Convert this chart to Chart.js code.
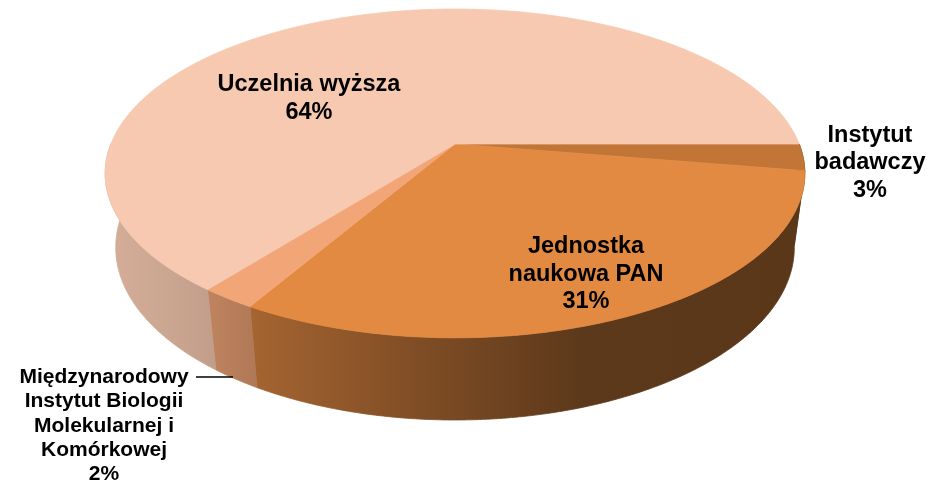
<!DOCTYPE html>
<html>
<head>
<meta charset="utf-8">
<script src="https://cdn.jsdelivr.net/npm/chart.js@4/dist/chart.umd.min.js"></script>
<style>
html,body{margin:0;padding:0;background:#ffffff;}
#wrap{width:951px;height:482px;position:relative;}
</style>
</head>
<body>
<div id="wrap"><canvas id="c" width="951" height="482"></canvas></div>
<script>
// ---- data ----
const categories = ['Instytut badawczy', 'Jednostka naukowa PAN', 'Międzynarodowy Instytut Biologii Molekularnej i Komórkowej', 'Uczelnia wyższa'];
const shares = [2.6, 30.8, 2.2, 64.4];
const topColors = ['#C17536', '#E38A42', '#F2A678', '#F6C9B0'];
const labelLines = [
  ['Instytut', 'badawczy'],
  ['Jednostka', 'naukowa PAN'],
  ['Międzynarodowy', 'Instytut Biologii', 'Molekularnej i', 'Komórkowej'],
  ['Uczelnia wyższa']
];

// ---- layout / styling (not data) ----
const VIEW = { sx: 2.39, sy: 1.105, depth: 0.526, persp: 0.179, recede: 0.03 };
const SHADE = [[100, 0.87], [200, 0.80], [260, 0.72], [420, 0.56], [580, 0.41], [810, 0.40]];
const LABEL_LAYOUT = [
  { x: 870, y: 142, lh: 27.3, size: 23.5 },
  { x: 586, y: 253, lh: 27.5, size: 23.5 },
  { x: 104, y: 383, lh: 24.3, size: 21, leader: [196, 377, 233, 377] },
  { x: 309, y: 91, lh: 28, size: 23.5 }
];

const total = shares.reduce((a, b) => a + b, 0);
const pctText = v => Math.round(v / total * 100) + '%';

function hexRgb(h) {
  const n = parseInt(h.slice(1), 16);
  return [(n >> 16) & 255, (n >> 8) & 255, n & 255];
}
function shadeColor(hex, f) {
  const c = hexRgb(hex).map(v => Math.round(v * f));
  return 'rgb(' + c.join(',') + ')';
}

const pie3d = {
  id: 'pie3d',
  beforeDatasetsDraw(chart) {
    const ctx = chart.ctx;
    const arcs = chart.getDatasetMeta(0).data;
    if (!arcs.length) return false;
    const cx = arcs[0].x, cy = arcs[0].y, r = arcs[0].outerRadius;
    const A = r * VIEW.sx, B = r * VIEW.sy, H = r * VIEW.depth, P = VIEW.persp, Q = VIEW.recede;
    const proj = (t, z) => {
      const u = Math.cos(t), v = Math.sin(t);
      const w = 1 - P * v + Q * z;
      return [cx + A * u / w, cy + (B * v + H * z) / w];
    };
    const x0 = SHADE[0][0], x1 = SHADE[SHADE.length - 1][0];
    const sideFill = (hex) => {
      const g = ctx.createLinearGradient(x0, 0, x1, 0);
      SHADE.forEach(([x, f]) => g.addColorStop((x - x0) / (x1 - x0), shadeColor(hex, f)));
      return g;
    };
    ctx.save();
    // side walls
    arcs.forEach((arc, i) => {
      const a0 = arc.startAngle, a1 = arc.endAngle;
      [0, 2 * Math.PI].forEach(k => {
        const lo = Math.max(a0, k), hi = Math.min(a1, k + Math.PI);
        if (hi <= lo) return;
        const n = Math.max(4, Math.ceil((hi - lo) / 0.01));
        ctx.beginPath();
        for (let j = 0; j <= n; j++) {
          const p = proj(lo + (hi - lo) * j / n, 0);
          if (j === 0) ctx.moveTo(p[0], p[1]); else ctx.lineTo(p[0], p[1]);
        }
        for (let j = n; j >= 0; j--) {
          const p = proj(lo + (hi - lo) * j / n, 1);
          ctx.lineTo(p[0], p[1]);
        }
        ctx.closePath();
        const g = sideFill(topColors[i]);
        ctx.fillStyle = g;
        ctx.fill();
        ctx.strokeStyle = g;
        ctx.lineWidth = 0.8;
        ctx.stroke();
      });
    });
    // top faces
    arcs.forEach((arc, i) => {
      const a0 = arc.startAngle, a1 = arc.endAngle;
      const n = Math.max(4, Math.ceil((a1 - a0) / 0.01));
      ctx.beginPath();
      ctx.moveTo(cx, cy);
      for (let j = 0; j <= n; j++) {
        const p = proj(a0 + (a1 - a0) * j / n, 0);
        ctx.lineTo(p[0], p[1]);
      }
      ctx.closePath();
      ctx.fillStyle = topColors[i];
      ctx.fill();
      ctx.strokeStyle = topColors[i];
      ctx.lineWidth = 0.8;
      ctx.stroke();
    });
    ctx.restore();
    return false;
  },
  afterDraw(chart) {
    const ctx = chart.ctx;
    ctx.save();
    ctx.fillStyle = '#000000';
    ctx.textAlign = 'center';
    ctx.textBaseline = 'alphabetic';
    labelLines.forEach((lines, i) => {
      const L = LABEL_LAYOUT[i];
      ctx.font = 'bold ' + L.size + 'px "Liberation Sans", Arial, sans-serif';
      const all = lines.concat([pctText(shares[i])]);
      all.forEach((t, j) => ctx.fillText(t, L.x, L.y + j * L.lh));
      if (L.leader) {
        ctx.beginPath();
        ctx.moveTo(L.leader[0], L.leader[1]);
        ctx.lineTo(L.leader[2], L.leader[3]);
        ctx.strokeStyle = '#000000';
        ctx.lineWidth = 1.5;
        ctx.stroke();
      }
    });
    ctx.restore();
  }
};

new Chart(document.getElementById('c'), {
  type: 'pie',
  data: {
    labels: categories,
    datasets: [{ data: shares, backgroundColor: topColors, borderWidth: 0 }]
  },
  options: {
    responsive: false,
    animation: false,
    rotation: 90,
    layout: { padding: { left: 0, right: 41, top: 0, bottom: 194 } },
    plugins: { legend: { display: false }, tooltip: { enabled: false } }
  },
  plugins: [pie3d]
});
</script>
</body>
</html>
